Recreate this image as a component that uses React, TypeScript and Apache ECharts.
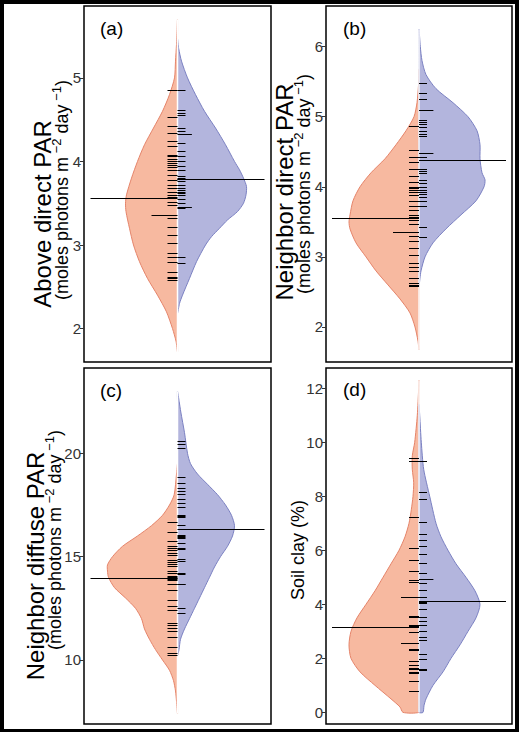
import React, { useEffect, useRef } from "react";
import * as echarts from "echarts";

type Pair = [number, number];

// ---------- Panel (a): Above direct PAR ----------
const aLeftOutline: Pair[] = [
  [1.72, 0], [1.85, 0.015], [2.0, 0.05], [2.2, 0.11], [2.4, 0.2], [2.6, 0.3], [2.8, 0.38],
  [3.0, 0.44], [3.2, 0.48], [3.4, 0.515], [3.5, 0.52], [3.6, 0.51], [3.8, 0.46], [4.0, 0.4],
  [4.2, 0.33], [4.4, 0.24], [4.6, 0.15], [4.8, 0.08], [5.0, 0.03], [5.2, 0.02], [5.4, 0.01], [5.7, 0],
];
const aRightOutline: Pair[] = [
  [2.18, 0], [2.3, 0.02], [2.4, 0.05], [2.6, 0.12], [2.8, 0.19], [3.0, 0.28], [3.1, 0.34],
  [3.2, 0.42], [3.3, 0.5], [3.4, 0.6], [3.5, 0.66], [3.6, 0.685], [3.7, 0.69], [3.8, 0.66],
  [3.9, 0.62], [4.0, 0.57], [4.2, 0.48], [4.4, 0.38], [4.6, 0.27], [4.8, 0.18], [5.0, 0.1],
  [5.2, 0.04], [5.35, 0.012], [5.47, 0],
];
const aLeftRug = [4.86, 4.53, 4.42, 4.34, 4.25, 4.18, 4.08, 4.06, 4.03, 4.0, 3.98, 3.96, 3.93, 3.9, 3.84,
  3.78, 3.72, 3.68, 3.64, 3.6, 3.57, 3.52, 3.48, 3.36, 3.36, 3.36, 3.32, 3.22, 3.12, 3.02, 2.9, 2.86,
  2.8, 2.68, 2.62, 2.6, 2.58];
const aRightRug = [4.86, 4.62, 4.58, 4.56, 4.4, 4.36, 4.33, 4.33, 4.22, 4.12, 4.06, 4.0, 3.95, 3.9, 3.83,
  3.8, 3.79, 3.76, 3.72, 3.68, 3.66, 3.64, 3.62, 3.6, 3.55, 3.5, 3.45, 3.45, 3.44, 2.86, 2.78];
const aMeans = [3.56, 3.79];
const aTicks = [2, 3, 4, 5];

// ---------- Panel (b): Neighbor direct PAR ----------
const bLeftOutline: Pair[] = [
  [1.68, 0], [1.8, 0.01], [2.0, 0.04], [2.2, 0.09], [2.4, 0.19], [2.6, 0.31], [2.8, 0.43],
  [3.0, 0.53], [3.2, 0.63], [3.4, 0.69], [3.5, 0.7], [3.6, 0.69], [3.8, 0.66], [4.0, 0.59],
  [4.2, 0.48], [4.4, 0.34], [4.6, 0.23], [4.8, 0.13], [5.0, 0.05], [5.2, 0.02], [5.45, 0.005], [5.68, 0],
];
const bRightOutline: Pair[] = [
  [2.58, 0], [2.7, 0.01], [2.8, 0.02], [3.0, 0.06], [3.2, 0.14], [3.4, 0.27], [3.6, 0.42],
  [3.8, 0.57], [4.0, 0.65], [4.1, 0.66], [4.2, 0.63], [4.4, 0.61], [4.6, 0.61], [4.8, 0.58],
  [5.0, 0.49], [5.2, 0.34], [5.4, 0.17], [5.6, 0.07], [5.8, 0.03], [6.0, 0.013], [6.25, 0],
];
const bLeftRug = [4.87, 4.52, 4.43, 4.36, 4.25, 4.15, 4.07, 4.0, 3.98, 3.96, 3.93, 3.88, 3.8, 3.72, 3.67,
  3.6, 3.57, 3.55, 3.52, 3.47, 3.36, 3.36, 3.36, 3.3, 3.22, 3.13, 3.03, 2.91, 2.86, 2.8, 2.7, 2.63, 2.6, 2.59];
const bRightRug = [5.48, 5.34, 5.25, 5.1, 5.1, 4.95, 4.92, 4.9, 4.86, 4.8, 4.76, 4.73, 4.48, 4.48, 4.42,
  4.25, 4.23, 4.22, 4.2, 4.1, 4.05, 4.0, 3.95, 3.93, 3.9, 3.86, 3.8, 3.73, 3.72, 3.43, 3.29];
const bMeans = [3.55, 4.38];
const bTicks = [2, 3, 4, 5, 6];

// ---------- Panel (c): Neighbor diffuse PAR ----------
const cLeftOutline: Pair[] = [
  [7.4, 0], [8.0, 0.01], [8.5, 0.02], [9.0, 0.04], [9.5, 0.08], [10.0, 0.15], [10.5, 0.22],
  [11.0, 0.28], [11.5, 0.33], [12.0, 0.36], [12.5, 0.42], [13.0, 0.52], [13.5, 0.63], [14.0, 0.69],
  [14.3, 0.7], [14.6, 0.7], [15.0, 0.65], [15.5, 0.55], [16.0, 0.4], [16.5, 0.26], [17.0, 0.15],
  [17.5, 0.08], [18.0, 0.033], [19.0, 0.01], [19.5, 0],
];
const cRightOutline: Pair[] = [
  [10.2, 0], [10.5, 0.015], [11.0, 0.03], [11.5, 0.07], [12.0, 0.12], [12.5, 0.17], [13.0, 0.22],
  [13.5, 0.27], [14.0, 0.32], [14.5, 0.37], [15.0, 0.43], [15.5, 0.5], [16.0, 0.55], [16.5, 0.57],
  [17.0, 0.54], [17.5, 0.48], [18.0, 0.4], [18.5, 0.3], [19.0, 0.2], [19.5, 0.13], [20.0, 0.1],
  [21.0, 0.07], [22.0, 0.033], [22.5, 0.017], [23.0, 0],
];
const cLeftRug = [16.7, 16.2, 15.75, 15.5, 15.4, 15.3, 15.2, 15.1, 14.85, 14.75, 14.65, 14.55, 14.3, 14.2,
  14.05, 14.0, 13.95, 13.9, 13.85, 13.7, 13.4, 12.9, 12.6, 12.4, 11.8, 11.7, 11.55, 11.4, 11.1, 10.65,
  10.35, 10.25];
const cRightRug = [20.6, 20.45, 20.25, 18.85, 18.55, 18.3, 18.2, 18.05, 17.8, 17.6, 17.4, 17.0, 16.95,
  16.9, 16.55, 16.05, 16.0, 15.95, 15.9, 15.65, 15.4, 15.38, 14.9, 14.8, 14.2, 14.18, 13.7, 13.68,
  12.5, 12.25];
const cMeans = [13.95, 16.32];
const cTicks = [10, 15, 20];

// ---------- Panel (d): Soil clay ----------
const dLeftOutline: Pair[] = [
  [0, 0.16], [0.2, 0.19], [0.5, 0.28], [1.0, 0.44], [1.5, 0.59], [2.0, 0.68], [2.5, 0.7],
  [3.0, 0.68], [3.5, 0.62], [4.0, 0.53], [4.5, 0.44], [5.0, 0.36], [5.5, 0.28], [6.0, 0.2],
  [6.5, 0.14], [7.0, 0.1], [7.5, 0.077], [8.0, 0.06], [8.5, 0.053], [9.0, 0.067], [9.5, 0.067],
  [10.0, 0.043], [11.0, 0.017], [12.0, 0.003], [12.3, 0],
];
const dRightOutline: Pair[] = [
  [0, 0.04], [0.25, 0.05], [0.5, 0.07], [1.0, 0.14], [1.5, 0.24], [2.0, 0.32], [2.5, 0.41],
  [3.0, 0.49], [3.5, 0.57], [4.0, 0.61], [4.5, 0.56], [5.0, 0.47], [5.5, 0.37], [6.0, 0.29],
  [6.5, 0.22], [7.0, 0.17], [8.0, 0.107], [9.0, 0.047], [10.0, 0.023], [11.0, 0.007], [11.4, 0],
];
const dLeftRug = [9.4, 9.32, 7.22, 6.1, 5.65, 5.23, 4.9, 4.84, 4.26, 4.26, 3.55, 3.52, 3.23, 3.18, 3.16,
  2.99, 2.56, 2.56, 2.34, 2.32, 1.9, 1.75, 1.65, 1.62, 1.6, 1.5, 1.45, 1.17, 1.15, 0.8, 0.78];
const dRightRug = [9.32, 8.15, 7.9, 7.04, 6.6, 6.38, 6.16, 5.85, 5.52, 5.17, 4.93, 4.93, 4.8, 4.78, 4.53,
  4.28, 4.08, 4.05, 3.81, 3.52, 3.38, 3.23, 3.02, 3.0, 2.8, 2.68, 2.15, 1.96, 1.6, 1.58];
const dMeans = [3.17, 4.12];
const dTicks = [0, 2, 4, 6, 8, 10, 12];

const panelLabels = ["(a)", "(b)", "(c)", "(d)"];
const titleLine1 = ["Above direct PAR", "Neighbor direct PAR", "Neighbor diffuse PAR", "Soil clay (%)"];

// ---------- styling ----------
const FONT = "'Liberation Sans', Arial, Helvetica, sans-serif";
const SALMON_FILL = "#F7B9A0";
const SALMON_LINE = "#E5846A";
const BLUE_FILL = "#B3B5DD";
const BLUE_LINE = "#7B81C2";
const LEFT_RUG = 0.1;
const RIGHT_RUG = 0.08;
const MEAN_LEN = 0.87;

const grids = [
  { left: 84, top: 6, width: 187, height: 356 },
  { left: 326, top: 6, width: 186, height: 356 },
  { left: 84, top: 368, width: 187, height: 356 },
  { left: 326, top: 368, width: 186, height: 356 },
];
const yRanges: Pair[] = [[1.6, 5.86], [1.5, 6.58], [6.9, 24.13], [-0.43, 12.75]];

const panels = [
  { L: aLeftOutline, R: aRightOutline, lr: aLeftRug, rr: aRightRug, m: aMeans, t: aTicks },
  { L: bLeftOutline, R: bRightOutline, lr: bLeftRug, rr: bRightRug, m: bMeans, t: bTicks },
  { L: cLeftOutline, R: cRightOutline, lr: cLeftRug, rr: cRightRug, m: cMeans, t: cTicks },
  { L: dLeftOutline, R: dRightOutline, lr: dLeftRug, rr: dRightRug, m: dMeans, t: dTicks },
];

function polySeries(gi: number, outline: Pair[], side: number, fill: string, stroke: string) {
  return {
    type: "custom",
    xAxisIndex: gi,
    yAxisIndex: gi,
    z: 2,
    silent: true,
    data: outline.map(([y, w]) => [side * w, y]),
    renderItem: (params: any, api: any) => {
      if (params.dataIndex !== 0) return null;
      const pts = outline.map(([y, w]) => api.coord([side * w, y]));
      for (let i = outline.length - 1; i >= 0; i--) {
        if (outline[i][1] !== 0) pts.push(api.coord([0, outline[i][0]]));
      }
      return {
        type: "polygon",
        shape: { points: pts, smooth: 0.25 },
        style: { fill, stroke, lineWidth: 1 },
      };
    },
  };
}

function centerSeries(gi: number, lo: number, hi: number) {
  return {
    type: "custom",
    xAxisIndex: gi,
    yAxisIndex: gi,
    z: 3,
    silent: true,
    data: [[0, lo], [0, hi]],
    renderItem: (params: any, api: any) => {
      if (params.dataIndex !== 0) return null;
      const p0 = api.coord([0, lo]);
      const p1 = api.coord([0, hi]);
      return {
        type: "line",
        shape: { x1: p0[0], y1: p0[1], x2: p1[0], y2: p1[1] },
        style: { stroke: "#fff", lineWidth: 1.5 },
      };
    },
  };
}

function rugSeries(gi: number, values: number[], side: number, base: number) {
  const counts = new Map<number, number>();
  values.forEach((v) => counts.set(v, (counts.get(v) || 0) + 1));
  const data = Array.from(counts.entries()).map(([v, c]) => [0, v, c]);
  return {
    type: "custom",
    xAxisIndex: gi,
    yAxisIndex: gi,
    z: 4,
    silent: true,
    data,
    renderItem: (params: any, api: any) => {
      const v = api.value(1);
      const c = api.value(2);
      const len = base * (1 + 0.8 * (c - 1));
      const p0 = api.coord([0, v]);
      const p1 = api.coord([side * len, v]);
      const y = Math.round(p0[1]) + 0.5;
      return {
        type: "line",
        shape: { x1: p0[0], y1: y, x2: p1[0], y2: y },
        style: { stroke: "#000", lineWidth: 1 },
      };
    },
  };
}

function meanSeries(gi: number, means: number[]) {
  return {
    type: "custom",
    xAxisIndex: gi,
    yAxisIndex: gi,
    z: 5,
    silent: true,
    data: means.map((m, i) => [i === 0 ? -1 : 1, m]),
    renderItem: (params: any, api: any) => {
      const side = api.value(0);
      const v = api.value(1);
      const p0 = api.coord([0, v]);
      const p1 = api.coord([side * MEAN_LEN, v]);
      const y = Math.round(p0[1]) + 0.5;
      return {
        type: "line",
        shape: { x1: p0[0], y1: y, x2: p1[0], y2: y },
        style: { stroke: "#000", lineWidth: 1 },
      };
    },
  };
}

function buildOption() {
  const series: any[] = [];
  panels.forEach((p, gi) => {
    series.push(polySeries(gi, p.L, -1, SALMON_FILL, SALMON_LINE));
    series.push(polySeries(gi, p.R, 1, BLUE_FILL, BLUE_LINE));
    const lo = Math.min(p.L[0][0], p.R[0][0]);
    const hi = Math.max(p.L[p.L.length - 1][0], p.R[p.R.length - 1][0]);
    series.push(centerSeries(gi, lo, hi));
    series.push(rugSeries(gi, p.lr, -1, LEFT_RUG));
    series.push(rugSeries(gi, p.rr, 1, RIGHT_RUG));
    series.push(meanSeries(gi, p.m));
  });

  const supRich = {
    n: { fontSize: 18, fontFamily: FONT, lineHeight: 20, verticalAlign: "bottom", fill: "#000" },
    s: { fontSize: 13, fontFamily: FONT, padding: [0, 0, 8, 0], verticalAlign: "top", fill: "#000" },
  };

  const graphic: any[] = [
    { type: "rect", z: -100, shape: { x: 4, y: 4, width: 511, height: 725 }, style: { fill: "#fff" } },
  ];
  const labelPos: Pair[] = [[100, 19], [343, 19], [100, 381], [343, 380]];
  panelLabels.forEach((t, i) => {
    graphic.push({
      type: "text",
      x: labelPos[i][0],
      y: labelPos[i][1],
      style: { text: t, fontSize: 19, fontFamily: FONT, fill: "#000", align: "left", verticalAlign: "top" },
    });
  });
  // [line1 x, line1 y, line2 x, line2 y, line1 font size]
  const titlePos = [
    [42, 214, 60, 190, 24],
    [284, 192, 302, 184, 24],
    [35, 566, 53, 540, 24],
    [298, 550, 0, 0, 18],
  ];
  titleLine1.forEach((t, i) => {
    const tp = titlePos[i];
    graphic.push({
      type: "text",
      x: tp[0],
      y: tp[1],
      rotation: Math.PI / 2,
      style: { text: t, fontSize: tp[4], fontFamily: FONT, fill: "#000", align: "center", verticalAlign: "middle" },
    });
    if (i < 3) {
      graphic.push({
        type: "text",
        x: tp[2],
        y: tp[3],
        rotation: Math.PI / 2,
        style: {
          text: "{n|(moles photons m}{s| −2}{n| day}{s| −1}{n|)}",
          rich: supRich,
          fontSize: 18,
          fontFamily: FONT,
          fill: "#000",
          align: "center",
          verticalAlign: "middle",
        },
      });
    }
  });

  return {
    animation: false,
    backgroundColor: "#000",
    grid: grids.map((g) => ({ ...g, show: true, borderColor: "#000", borderWidth: 1.5, backgroundColor: "transparent" })),
    xAxis: grids.map((g, i) => ({
      gridIndex: i,
      type: "value",
      min: -g.width / 200,
      max: g.width / 200,
      show: false,
      axisLine: { show: false, onZero: false },
    })),
    yAxis: panels.map((p, i) => ({
      gridIndex: i,
      type: "value",
      position: "left",
      min: yRanges[i][0],
      max: yRanges[i][1],
      axisLine: { show: false, onZero: false },
      splitLine: { show: false },
      axisTick: { show: true, length: 4, customValues: p.t, lineStyle: { color: "#333", width: 1 } },
      axisLabel: { customValues: p.t, fontSize: 15, color: "#333", fontFamily: FONT, margin: 3 },
    })),
    graphic,
    series,
  };
}

export default function App() {
  const ref = useRef<HTMLDivElement>(null);
  useEffect(() => {
    document.body.style.margin = "0";
    const chart = echarts.init(ref.current!, null, { renderer: "svg" });
    chart.setOption(buildOption() as any);
    return () => chart.dispose();
  }, []);
  return <div ref={ref} style={{ width: 519, height: 732 }} />;
}
